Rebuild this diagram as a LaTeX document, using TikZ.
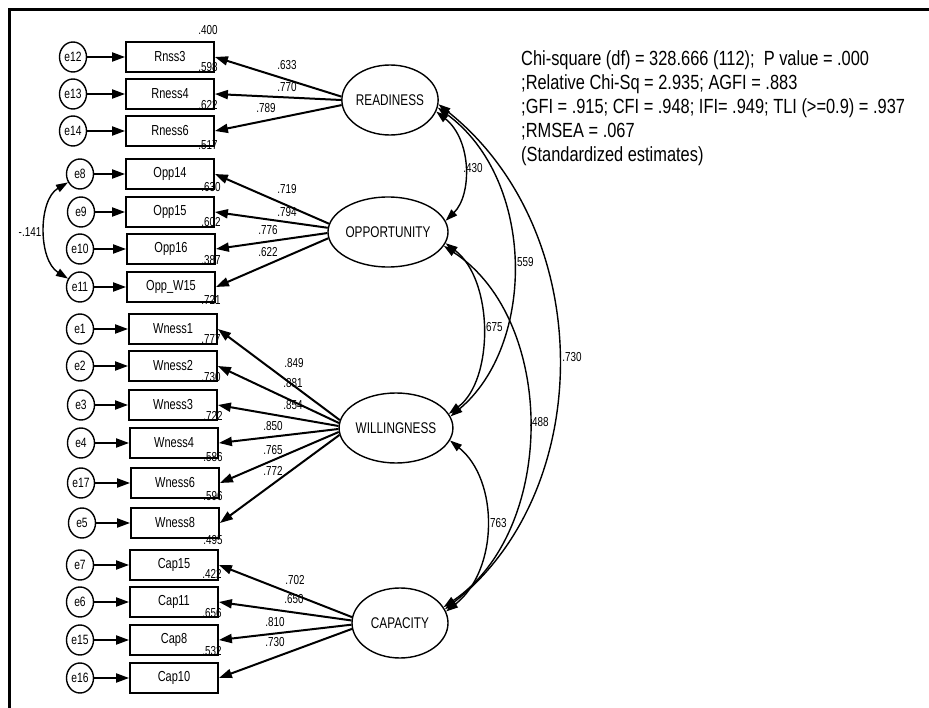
\documentclass[tikz,border=0pt]{standalone}
\usepackage{fontspec}
\setmainfont{Liberation Sans}[FakeStretch=0.76]
\newfontfamily\blockfont{Liberation Sans}[FakeStretch=0.8]
\usetikzlibrary{arrows.meta,shapes.geometric}
\begin{document}
\begin{tikzpicture}[x=1pt,y=-1pt,
  lat/.style={draw, ellipse, line width=1.4pt, minimum width=96pt, minimum height=70pt, inner sep=0pt, font=\fontsize{15.5}{17}\selectfont},
  err/.style={draw, ellipse, line width=1.4pt, minimum width=27pt, minimum height=30pt, inner sep=0pt, font=\fontsize{13.5}{15}\selectfont},
  obs/.style={draw, rectangle, line width=1.8pt, minimum width=88pt, minimum height=30pt, inner sep=0pt, font=\fontsize{14.5}{16}\selectfont},
  num/.style={inner sep=0pt, font=\fontsize{13}{14}\selectfont},
  blk/.style={inner sep=0pt, anchor=base west, font=\blockfont\fontsize{20.5}{24}\selectfont},
  load/.style={line width=2pt, -{Triangle[length=13pt,width=9pt]}},
  errarr/.style={line width=2pt, -{Triangle[length=13pt,width=9pt]}},
  cov/.style={line width=1.4pt, {Triangle[length=12pt,width=8pt]}-{Triangle[length=12pt,width=8pt]}},
  frame/.style={line width=2.4pt}
]
\useasboundingbox (0,0) rectangle (929,708);
\fill[white] (0,0) rectangle (929,708);
\coordinate (fa) at (929,9.5);
\coordinate (fb) at (9.5,9.5);
\coordinate (fc) at (9.5,708);
\draw[frame] (fa) -- (fb) -- (fc);

% latent variables
\node[lat] (R) at (390,100) {READINESS};
\node[lat] (O) at (388,232) {OPPORTUNITY};
\node[lat] (W) at (396,428) {WILLINGNESS};
\node[lat] (C) at (400,623) {CAPACITY};

% observed variables
\node[obs] (b1) at (170,57) {Rnss3};
\node[obs] (b2) at (170,94) {Rness4};
\node[obs] (b3) at (170,131) {Rness6};
\node[obs] (b4) at (170,174) {Opp14};
\node[obs] (b5) at (170,212) {Opp15};
\node[obs] (b6) at (171,249) {Opp16};
\node[obs] (b7) at (171,287) {Opp\_W15};
\node[obs] (b8) at (173,329) {Wness1};
\node[obs] (b9) at (173,366) {Wness2};
\node[obs] (b10) at (173,405) {Wness3};
\node[obs] (b11) at (174,443) {Wness4};
\node[obs] (b12) at (175,483) {Wness6};
\node[obs] (b13) at (175,523) {Wness8};
\node[obs] (b14) at (174,565) {Cap15};
\node[obs] (b15) at (174,602) {Cap11};
\node[obs] (b16) at (174,640) {Cap8};
\node[obs] (b17) at (174,678) {Cap10};

% error terms
\node[err] (e12) at (73,57) {e12};
\node[err] (e13) at (73,94) {e13};
\node[err] (e14) at (73,131) {e14};
\node[err] (e8) at (80,174) {e8};
\node[err] (e9) at (81,212) {e9};
\node[err] (e10) at (80,249) {e10};
\node[err] (e11) at (80,287) {e11};
\node[err] (e1) at (80,329) {e1};
\node[err] (e2) at (80,366) {e2};
\node[err] (e3) at (81,405) {e3};
\node[err] (e4) at (81,443) {e4};
\node[err] (e17) at (81,483) {e17};
\node[err] (e5) at (82,523) {e5};
\node[err] (e7) at (80,565) {e7};
\node[err] (e6) at (80,602) {e6};
\node[err] (e15) at (80,640) {e15};
\node[err] (e16) at (80,678) {e16};

% error arrows
\draw[errarr] (e12) -- (b1.west);
\draw[errarr] (e13) -- (b2.west);
\draw[errarr] (e14) -- (b3.west);
\draw[errarr] (e8) -- (b4.west);
\draw[errarr] (e9) -- (b5.west);
\draw[errarr] (e10) -- (b6.west);
\draw[errarr] (e11) -- (b7.west);
\draw[errarr] (e1) -- (b8.west);
\draw[errarr] (e2) -- (b9.west);
\draw[errarr] (e3) -- (b10.west);
\draw[errarr] (e4) -- (b11.west);
\draw[errarr] (e17) -- (b12.west);
\draw[errarr] (e5) -- (b13.west);
\draw[errarr] (e7) -- (b14.west);
\draw[errarr] (e6) -- (b15.west);
\draw[errarr] (e15) -- (b16.west);
\draw[errarr] (e16) -- (b17.west);

% error covariance
\draw[cov] (e8.215) .. controls (38,200) and (38,260) .. (e11.145);
\node[num] (n141) at (30,232) {-.141};

% loadings
\draw[load] (R.176) -- (b1.east);
\draw[load] (R.180) -- (b2.east);
\draw[load] (R.186) -- (b3.east);
\draw[load] (O.172) -- (b4.east);
\draw[load] (O.176) -- (b5.east);
\draw[load] (O.181) -- (b6.east);
\draw[load] (O.186) -- (b7.east);
\draw[load] (W.172) -- (b8.east);
\draw[load] (W.175) -- (b9.east);
\draw[load] (W.178) -- (b10.east);
\draw[load] (W.181) -- (b11.east);
\draw[load] (W.184) -- (b12.east);
\draw[load] (W.187) -- (b13.east);
\draw[load] (C.173) -- (b14.east);
\draw[load] (C.177) -- (b15.east);
\draw[load] (C.182) -- (b16.east);
\draw[load] (C.187) -- (b17.east);

% loading labels
\node[num] (l1) at (287,65) {.633};
\node[num] (l2) at (287,87) {.770};
\node[num] (l3) at (266,108) {.789};
\node[num] (l4) at (287,189) {.719};
\node[num] (l5) at (287,212) {.794};
\node[num] (l6) at (268,230) {.776};
\node[num] (l7) at (268,252) {.622};
\node[num] (l8) at (294,363) {.849};
\node[num] (l9) at (293,383) {.881};
\node[num] (l10) at (293,405) {.854};
\node[num] (l11) at (273,426) {.850};
\node[num] (l12) at (273,450) {.765};
\node[num] (l13) at (273,471) {.772};
\node[num] (l14) at (295,580) {.702};
\node[num] (l15) at (294,599) {.650};
\node[num] (l16) at (275,622) {.810};
\node[num] (l17) at (275,642) {.730};

% squared multiple correlations
\node[num] (r1) at (208,30) {.400};
\node[num] (r2) at (208,67) {.598};
\node[num] (r3) at (208,105) {.622};
\node[num] (r4) at (208,145) {.517};
\node[num] (r5) at (211,187) {.630};
\node[num] (r6) at (211,222) {.602};
\node[num] (r7) at (211,260) {.387};
\node[num] (r8) at (211,300) {.721};
\node[num] (r9) at (211,339) {.777};
\node[num] (r10) at (211,377) {.730};
\node[num] (r11) at (213,416) {.722};
\node[num] (r12) at (213,457) {.586};
\node[num] (r13) at (213,496) {.596};
\node[num] (r14) at (213,540) {.495};
\node[num] (r15) at (212,574) {.422};
\node[num] (r16) at (212,613) {.656};
\node[num] (r17) at (212,651) {.532};

% latent covariances
\draw[cov] (R.-14) .. controls (472,140) and (472,195) .. (O.11);
\draw[cov] (R.-9) .. controls (536,180) and (536,345) .. (W.12);
\draw[cov] (R.-5) .. controls (597,230) and (597,490) .. (C.17);
\draw[cov] (O.-11) .. controls (494,280) and (494,380) .. (W.15);
\draw[cov] (O.-14) .. controls (557,320) and (557,530) .. (C.20);
\draw[cov] (W.-13) .. controls (499,480) and (499,570) .. (C.14);
\node[num] (c1) at (473,168) {.430};
\node[num] (c2) at (524,262) {.559};
\node[num] (c3) at (572,357) {.730};
\node[num] (c4) at (493,327) {.675};
\node[num] (c5) at (539,422) {.488};
\node[num] (c6) at (497,523) {.763};

% fit statistics
\node[blk] (t1) at (521,65.5) {Chi-square (df) = 328.666 (112);\ \ P value = .000};
\node[blk] (t2) at (521,89.5) {;Relative Chi-Sq = 2.935; AGFI = .883};
\node[blk] (t3) at (521,113.5) {;GFI = .915; CFI = .948; IFI= .949; TLI (>=0.9) = .937};
\node[blk] (t4) at (521,137.5) {;RMSEA = .067};
\node[blk] (t5) at (521,161.5) {(Standardized estimates)};
\end{tikzpicture}
\end{document}
